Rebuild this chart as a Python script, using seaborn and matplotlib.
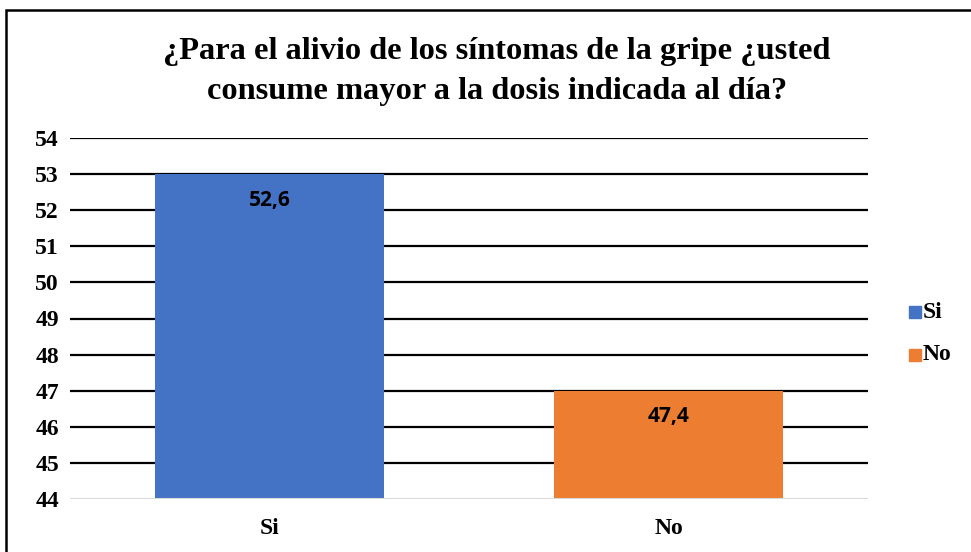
import matplotlib
matplotlib.use("Agg")
import matplotlib.pyplot as plt
import seaborn as sns
import pandas as pd
from matplotlib.patches import Rectangle

categories = ["Si", "No"]
values = [53, 47]
labels = ["52,6", "47,4"]
colors = ["#4472C4", "#ED7D31"]
yticks = list(range(44, 55))

sns.set_style("white")
plt.rcParams["font.family"] = ["Liberation Serif", "DejaVu Serif"]
plt.rcParams["text.color"] = "black"
plt.rcParams["xtick.color"] = "black"
plt.rcParams["ytick.color"] = "black"

df = pd.DataFrame({"cat": categories, "val": values})

fig = plt.figure(figsize=(9.71, 5.52), dpi=100)
ax = fig.add_axes([70/971, 1-499/552, (868-70)/971, (499-138)/552])

sns.barplot(data=df, x="cat", y="val", hue="cat", palette=colors, order=categories,
            hue_order=categories, width=0.574, ax=ax, legend=False, zorder=3,
            saturation=1, linewidth=0)

ax.set_ylim(44, 54)
ax.set_yticks(yticks)
ax.set_yticklabels([str(t) for t in yticks], fontsize=17, fontweight="bold")
ax.set_xticks(range(len(categories)))
ax.set_xticklabels(categories, fontsize=17, fontweight="bold")
ax.tick_params(axis="both", length=0, pad=8)
ax.tick_params(axis="x", pad=14)
ax.set_xlabel("")
ax.set_ylabel("")
for t in yticks[1:]:
    ax.axhline(t, color="black", lw=1.6, zorder=1)
ax.axhline(44, color="#D9D9D9", lw=1.5, zorder=4)
for s in ax.spines.values():
    s.set_visible(False)

for i, (v, lab) in enumerate(zip(values, labels)):
    ax.text(i, v - 0.72, lab, ha="center", va="center", fontsize=15, fontweight="bold",
            family=["Open Sans", "DejaVu Sans"], color="black", zorder=5)

fig.text(0.512, 1-52/552, "¿Para el alivio de los síntomas de la gripe ¿usted",
         ha="center", va="center", fontsize=23.3, fontweight="bold")
fig.text(0.512, 1-91/552, "consume mayor a la dosis indicada al día?",
         ha="center", va="center", fontsize=23.3, fontweight="bold")

# legend
for lab, c, y in zip(categories, colors, [312, 355]):
    fig.patches.append(Rectangle((909/971, 1-(y+6)/552), 12/971, 12/552,
                                 transform=fig.transFigure, color=c, figure=fig))
    fig.text(923/971, 1-y/552, lab, ha="left", va="center", fontsize=17, fontweight="bold")

fig.patches.append(Rectangle((6/971, -0.05), 1.1, 1-10/552+0.05, transform=fig.transFigure,
                             fill=False, edgecolor="black", lw=1.8, figure=fig))

fig.savefig("out.png", dpi=100)
